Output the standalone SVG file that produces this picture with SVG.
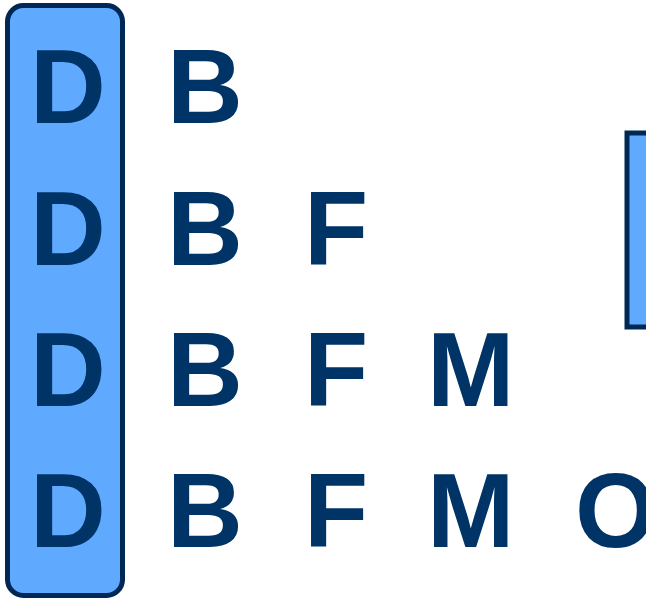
<svg xmlns="http://www.w3.org/2000/svg" width="646" height="599" viewBox="0 0 646 599">
  <style>
    .box { fill: #5FAAFF; stroke: #002855; stroke-width: 5; }
    .t { font-family: "Liberation Sans", Arial, sans-serif; font-weight: bold; font-size: 105px; fill: #003366; }
  </style>
  <rect width="646" height="599" fill="#FFFFFF"/>
  <g id="highlight-column">
    <rect class="box" x="7.5" y="5.5" width="115" height="590" rx="16" ry="16"/>
  </g>
  <g id="highlight-right">
    <rect class="box" x="627" y="133" width="40" height="194"/>
  </g>
  <g id="connectors"></g>
  <g id="row1">
    <text class="t" x="30" y="123">D</text>
    <text class="t" x="167" y="123">B</text>
  </g>
  <g id="row2">
    <text class="t" x="30" y="264.5">D</text>
    <text class="t" x="167" y="264.5">B</text>
    <text class="t" x="304" y="264.5">F</text>
  </g>
  <g id="row3">
    <text class="t" x="30" y="406">D</text>
    <text class="t" x="167" y="406">B</text>
    <text class="t" x="304" y="406">F</text>
    <text class="t" x="427" y="406">M</text>
  </g>
  <g id="row4">
    <text class="t" x="30" y="547">D</text>
    <text class="t" x="167" y="547">B</text>
    <text class="t" x="304" y="547">F</text>
    <text class="t" x="427" y="547">M</text>
    <text class="t" x="575" y="547">O</text>
  </g>
</svg>
